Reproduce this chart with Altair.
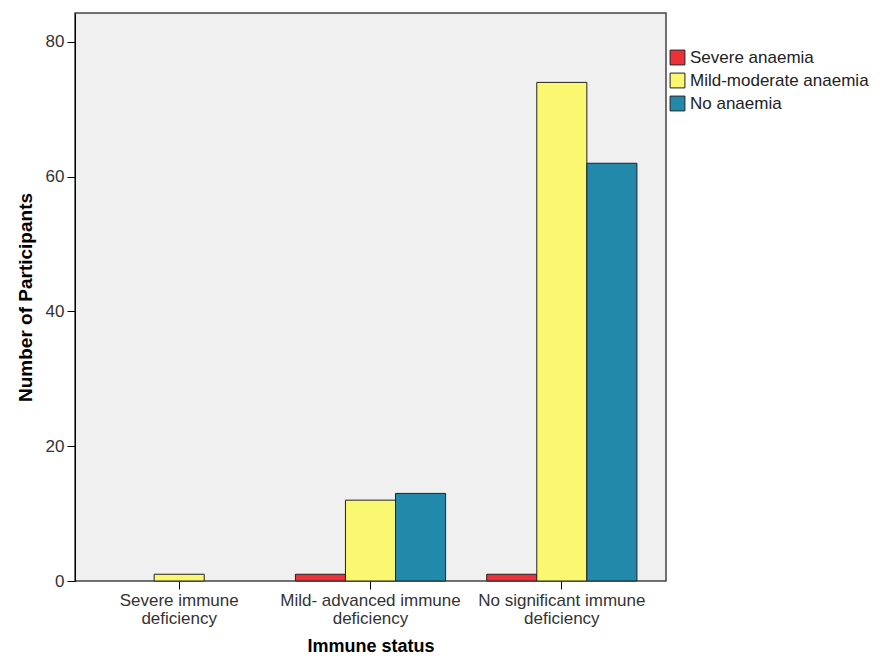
import altair as alt
import pandas as pd

categories = ["Severe immune deficiency", "Mild- advanced immune deficiency", "No significant immune deficiency"]
series = ["Severe anaemia", "Mild-moderate anaemia", "No anaemia"]
severe_anaemia = [0, 1, 1]
mild_moderate = [1, 12, 74]
no_anaemia = [0, 13, 62]
colors = ["#EC3238", "#FAF770", "#2389AB"]

rows = []
for i, c in enumerate(categories):
    for s, vals in zip(series, [severe_anaemia, mild_moderate, no_anaemia]):
        rows.append({"status": c, "anaemia": s, "count": vals[i]})
df = pd.DataFrame(rows)

FONT = "Liberation Sans"

label_expr = ("[substring(datum.label, 0, lastindexof(datum.label, ' ')), "
              "substring(datum.label, lastindexof(datum.label, ' ') + 1)]")

chart = alt.Chart(df).transform_filter(
    "datum.count > 0"
).mark_bar(stroke="#222222", strokeWidth=1).encode(
    x=alt.X("status:N", sort=categories,
            scale=alt.Scale(domain=categories, paddingInner=0.215, paddingOuter=0.152),
            axis=alt.Axis(title="Immune status", labelAngle=0, labelExpr=label_expr,
                          labelFontSize=17, labelColor="#333333", labelFont=FONT,
                          labelLineHeight=18, labelPadding=3, labelLimit=0,
                          titleFontSize=18, titleFont=FONT, titleFontWeight="bold",
                          titleColor="#000000", titlePadding=11,
                          tickSize=8, tickColor="#000000", domain=False)),
    xOffset=alt.XOffset("anaemia:N", sort=series, scale=alt.Scale(domain=series)),
    y=alt.Y("count:Q", scale=alt.Scale(domain=[0, 84.3], nice=False),
            axis=alt.Axis(title="Number of Participants", values=[0, 20, 40, 60, 80],
                          grid=False, tickSize=8, tickColor="#000000",
                          domainColor="#000000", labelFontSize=17, labelColor="#333333",
                          labelFont=FONT, labelPadding=3,
                          titleFontSize=19, titleFont=FONT, titleFontWeight="bold",
                          titleColor="#000000", titlePadding=10)),
    color=alt.Color("anaemia:N", sort=series,
                    scale=alt.Scale(domain=series, range=colors),
                    legend=alt.Legend(title=None, orient="none", legendX=594, legendY=36,
                                      symbolType="square", symbolSize=220,
                                      symbolStrokeColor="#222222", symbolStrokeWidth=1,
                                      labelFontSize=17, labelFont=FONT, labelColor="#222222",
                                      labelLimit=0, rowPadding=4, labelOffset=4)),
).properties(
    width=591, height=568,
    autosize=alt.AutoSizeParams(type="none"),
    padding={"left": 67, "top": 5, "right": 206, "bottom": 75},
).configure_view(
    fill="#F0F0F0", stroke="#444444", strokeWidth=1.5
)

chart.save("out.html", embed_options={"renderer": "svg", "actions": False})
